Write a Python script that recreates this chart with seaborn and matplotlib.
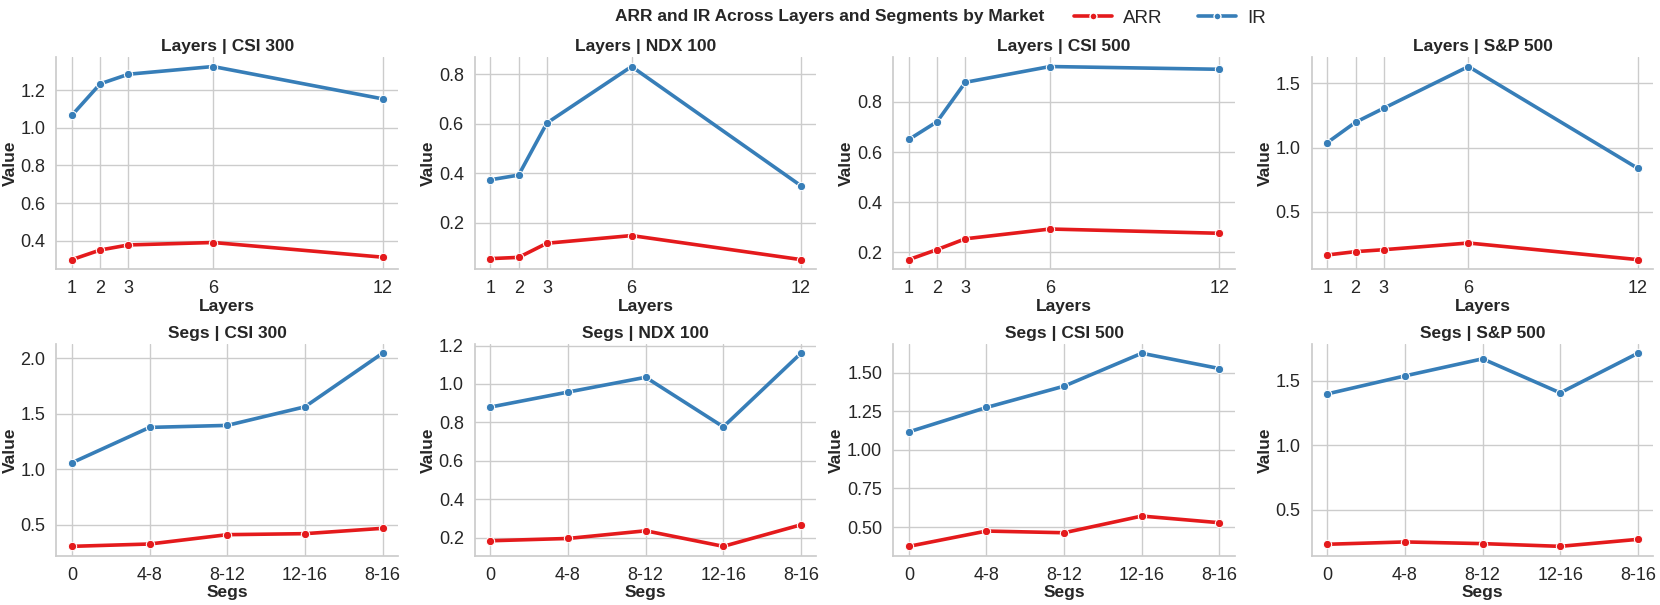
import matplotlib
matplotlib.use("Agg")
import matplotlib.pyplot as plt
import seaborn as sns
import pandas as pd
from matplotlib.lines import Line2D
from matplotlib.ticker import MultipleLocator

markets = ["CSI 300", "NDX 100", "CSI 500", "S&P 500"]
layers = [1, 2, 3, 6, 12]
segs = ["0", "4-8", "8-12", "12-16", "8-16"]

layers_arr = {
    "CSI 300": [0.299, 0.350, 0.377, 0.390, 0.312],
    "NDX 100": [0.056, 0.061, 0.118, 0.149, 0.052],
    "CSI 500": [0.171, 0.211, 0.254, 0.293, 0.276],
    "S&P 500": [0.166, 0.192, 0.207, 0.259, 0.130],
}
layers_ir = {
    "CSI 300": [1.067, 1.234, 1.285, 1.326, 1.154],
    "NDX 100": [0.374, 0.393, 0.603, 0.831, 0.350],
    "CSI 500": [0.650, 0.721, 0.878, 0.941, 0.930],
    "S&P 500": [1.039, 1.197, 1.306, 1.630, 0.839],
}
segs_arr = {
    "CSI 300": [0.308, 0.329, 0.413, 0.422, 0.470],
    "NDX 100": [0.184, 0.196, 0.236, 0.155, 0.267],
    "CSI 500": [0.375, 0.474, 0.463, 0.571, 0.528],
    "S&P 500": [0.235, 0.253, 0.240, 0.219, 0.273],
}
segs_ir = {
    "CSI 300": [1.060, 1.378, 1.396, 1.563, 2.045],
    "NDX 100": [0.880, 0.958, 1.035, 0.777, 1.160],
    "CSI 500": [1.116, 1.274, 1.412, 1.625, 1.526],
    "S&P 500": [1.397, 1.536, 1.668, 1.405, 1.711],
}

# y tick spacing per panel (as in the reference)
layers_ystep = {"CSI 300": 0.2, "NDX 100": 0.2, "CSI 500": 0.2, "S&P 500": 0.5}
segs_ystep = {"CSI 300": 0.5, "NDX 100": 0.2, "CSI 500": 0.25, "S&P 500": 0.5}

sns.set_theme(style="whitegrid")
plt.rcParams["font.family"] = ["Liberation Sans", "DejaVu Sans"]

palette = {"ARR": "#e41a1c", "IR": "#377eb8"}
FS_TICK = 13
FS_LAB = 12.5

fig, axes = plt.subplots(2, 4, figsize=(16.6, 6.05), dpi=100)
fig.subplots_adjust(left=0.034, right=0.996, top=0.906, bottom=0.081,
                    wspace=0.225, hspace=0.35)

def make_df(xs, arr, ir, xname):
    rows = []
    for x, v in zip(xs, arr):
        rows.append({xname: x, "Value": v, "Metric": "ARR"})
    for x, v in zip(xs, ir):
        rows.append({xname: x, "Value": v, "Metric": "IR"})
    return pd.DataFrame(rows)

for j, m in enumerate(markets):
    ax = axes[0, j]
    df = make_df(layers, layers_arr[m], layers_ir[m], "Layers")
    sns.lineplot(data=df, x="Layers", y="Value", hue="Metric", palette=palette,
                 marker="o", markersize=6, linewidth=2.6, ax=ax, legend=False)
    ax.set_xticks(layers)
    ax.yaxis.set_major_locator(MultipleLocator(layers_ystep[m]))
    ax.set_title(f"Layers | {m}", fontsize=FS_LAB, fontweight="bold", pad=4)
    ax.set_xlabel("Layers", fontsize=FS_LAB, fontweight="bold", labelpad=1)
    ax.set_ylabel("Value", fontsize=FS_LAB, fontweight="bold", labelpad=2)
    ax.tick_params(labelsize=FS_TICK, pad=2)

    ax = axes[1, j]
    df = make_df(segs, segs_arr[m], segs_ir[m], "Segs")
    sns.lineplot(data=df, x="Segs", y="Value", hue="Metric", palette=palette,
                 marker="o", markersize=6, linewidth=2.6, ax=ax, legend=False)
    ax.yaxis.set_major_locator(MultipleLocator(segs_ystep[m]))
    ax.set_title(f"Segs | {m}", fontsize=FS_LAB, fontweight="bold", pad=4)
    ax.set_xlabel("Segs", fontsize=FS_LAB, fontweight="bold", labelpad=1)
    ax.set_ylabel("Value", fontsize=FS_LAB, fontweight="bold", labelpad=2)
    ax.tick_params(labelsize=FS_TICK, pad=2)

sns.despine(fig=fig)

handles = [Line2D([], [], color=palette[k], marker="o", markersize=5,
                  markeredgecolor="white", linewidth=2.6) for k in ["ARR", "IR"]]
fig.suptitle("ARR and IR Across Layers and Segments by Market",
             x=0.5, y=0.985, fontsize=FS_LAB, fontweight="bold")
fig.legend(handles, ["ARR", "IR"], loc="center left",
           bbox_to_anchor=(0.637, 0.970), ncol=2, frameon=False,
           fontsize=13.5, columnspacing=1.9, handlelength=2.0,
           handletextpad=0.6)

fig.savefig("out.png", dpi=100)
